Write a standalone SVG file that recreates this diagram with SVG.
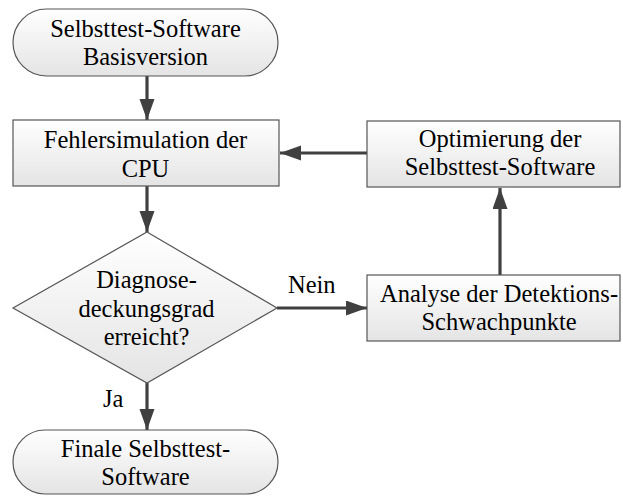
<svg xmlns="http://www.w3.org/2000/svg" width="623" height="496" viewBox="0 0 623 496">
<defs>
<linearGradient id="g" x1="0" y1="0" x2="0" y2="1">
<stop offset="0" stop-color="#ffffff"/>
<stop offset="1" stop-color="#e4e4e4"/>
</linearGradient>
<marker id="ah" markerUnits="userSpaceOnUse" markerWidth="22" markerHeight="16" refX="21" refY="7.5" orient="auto">
<path d="M0,0 L21,7.5 L0,15 Z" fill="#404040"/>
</marker>
<style>
.n{fill:url(#g);stroke:#555555;stroke-width:1.2}
.t{font-family:'Liberation Serif','Times New Roman',serif;font-size:24.5px;fill:#000000}
.m{text-anchor:middle}
.c{fill:none;stroke:#404040;stroke-width:3.2;marker-end:url(#ah)}
</style>
</defs>
<rect width="623" height="496" fill="#ffffff"/>
<g id="connectors">
<line class="c" x1="147" y1="76" x2="147" y2="120"/>
<line class="c" x1="367" y1="153" x2="280" y2="153"/>
<line class="c" x1="147" y1="186" x2="147" y2="232"/>
<line class="c" x1="277" y1="308" x2="367" y2="308"/>
<line class="c" x1="500" y1="275" x2="500" y2="188"/>
<line class="c" x1="147" y1="383" x2="147" y2="430"/>
<text class="t" x="288" y="293">Nein</text>
<text class="t" x="103" y="407">Ja</text>
</g>
<g id="start">
<rect class="n" x="13" y="9" width="265" height="67" rx="33.5"/>
<text class="t m" x="145.5" y="37">Selbsttest-Software</text>
<text class="t m" x="145.5" y="65">Basisversion</text>
</g>
<g id="fehlersimulation">
<rect class="n" x="13" y="120" width="266" height="66"/>
<text class="t m" x="145.5" y="148">Fehlersimulation der</text>
<text class="t m" x="145.5" y="177">CPU</text>
</g>
<g id="optimierung">
<rect class="n" x="367" y="121" width="253" height="66"/>
<text class="t m" x="500" y="147">Optimierung der</text>
<text class="t m" x="500" y="175">Selbsttest-Software</text>
</g>
<g id="entscheidung">
<polygon class="n" points="147,232 277,308 147,383 13,308"/>
<text class="t m" x="146.5" y="288">Diagnose-</text>
<text class="t m" x="146.5" y="317">deckungsgrad</text>
<text class="t m" x="146.5" y="345">erreicht?</text>
</g>
<g id="analyse">
<rect class="n" x="367" y="275" width="253" height="66"/>
<text class="t m" x="499" y="302">Analyse der Detektions-</text>
<text class="t m" x="499" y="330">Schwachpunkte</text>
</g>
<g id="ende">
<rect class="n" x="13" y="430" width="265" height="64" rx="32"/>
<text class="t m" x="145.5" y="457">Finale Selbsttest-</text>
<text class="t m" x="145.5" y="485">Software</text>
</g>
</svg>
